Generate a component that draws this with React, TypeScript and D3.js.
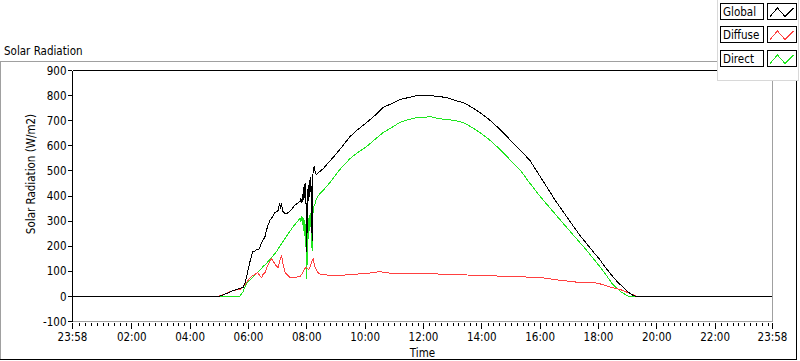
import React from "react";
import * as d3 from "d3";

type Pt = [string, number];

const xTickLabels = ["23:58", "02:00", "04:00", "06:00", "08:00", "10:00", "12:00", "14:00", "16:00", "18:00", "20:00", "22:00", "23:58"];
const yTickValues = [-100, 0, 100, 200, 300, 400, 500, 600, 700, 800, 900];
const legendNames = ["Global", "Diffuse", "Direct"];
const seriesColors = ["#000000", "#ff4040", "#1ee61e"];

const globalSeries: Pt[] = [
  ["00:00", 0], ["04:57", 0], ["05:05", 4], ["05:15", 12], ["05:28", 24], ["05:35", 27], ["05:42", 30], ["05:49", 37],
  ["05:53", 55], ["05:56", 77], ["05:59", 105], ["06:02", 131], ["06:06", 160], ["06:09", 177], ["06:13", 180], ["06:16", 186],
  ["06:20", 188], ["06:23", 192], ["06:27", 215], ["06:31", 228], ["06:34", 237], ["06:37", 262], ["06:40", 282], ["06:44", 304],
  ["06:47", 312], ["06:51", 324], ["06:54", 333], ["06:58", 338], ["07:01", 344], ["07:03", 362], ["07:04", 371], ["07:06", 356],
  ["07:08", 368], ["07:11", 337], ["07:15", 330], ["07:19", 331], ["07:25", 337], ["07:30", 352], ["07:35", 364], ["07:40", 372],
  ["07:46", 377], ["07:48", 392], ["07:50", 374], ["07:52", 402], ["07:53", 432], ["07:54", 386], ["07:55", 446], ["07:56", 396],
  ["07:57", 451], ["07:58", 408], ["07:59", 300], ["08:00", 177], ["08:01", 352], ["08:02", 424], ["08:03", 382], ["08:04", 442],
  ["08:05", 398], ["08:06", 462], ["08:07", 418], ["08:08", 472], ["08:09", 420], ["08:11", 224], ["08:12", 440], ["08:13", 500],
  ["08:15", 517], ["08:16", 504], ["08:18", 490], ["08:20", 484], ["08:24", 494], ["08:27", 497], ["08:34", 510], ["08:41", 524],
  ["08:54", 552], ["09:08", 584], ["09:29", 637], ["09:45", 664], ["10:03", 691], ["10:20", 722], ["10:37", 751], ["10:55", 770],
  ["11:11", 784], ["11:30", 793], ["11:46", 800], ["12:00", 802], ["12:13", 801], ["12:30", 797], ["12:48", 791], ["13:05", 782],
  ["13:22", 771], ["13:40", 753], ["13:56", 731], ["14:15", 705], ["14:31", 677], ["14:48", 646], ["15:05", 611], ["15:22", 578],
  ["15:39", 540], ["16:04", 467], ["16:30", 388], ["17:00", 302], ["17:22", 243], ["17:47", 184], ["18:01", 151], ["18:16", 113],
  ["18:31", 77], ["18:42", 52], ["18:52", 35], ["19:00", 20], ["19:05", 11], ["19:12", 4], ["19:19", 0], ["23:58", 0],
];

const diffuseSeries: Pt[] = [
  ["00:00", 0], ["04:57", 0], ["05:10", 8], ["05:28", 22], ["05:42", 28], ["05:49", 35], ["05:56", 57], ["06:02", 70],
  ["06:09", 84], ["06:16", 91], ["06:19", 97], ["06:23", 85], ["06:27", 77], ["06:30", 88], ["06:34", 97], ["06:37", 110],
  ["06:40", 124], ["06:44", 140], ["06:47", 151], ["06:51", 140], ["06:54", 131], ["06:58", 120], ["07:01", 117], ["07:04", 140],
  ["07:08", 164], ["07:11", 131], ["07:14", 105], ["07:17", 91], ["07:21", 82], ["07:25", 77], ["07:35", 75], ["07:46", 80],
  ["07:52", 97], ["07:56", 110], ["07:59", 117], ["08:03", 108], ["08:06", 111], ["08:10", 140], ["08:13", 151], ["08:16", 125],
  ["08:20", 104], ["08:25", 92], ["08:30", 88], ["08:54", 84], ["09:08", 84], ["09:30", 88], ["10:00", 92], ["10:20", 96],
  ["10:30", 100], ["10:40", 97], ["11:00", 93], ["12:00", 90], ["13:00", 87], ["14:00", 84], ["15:00", 80], ["16:00", 74],
  ["16:45", 65], ["17:22", 55], ["17:47", 54], ["18:01", 51], ["18:20", 40], ["18:45", 28], ["19:05", 13], ["19:20", 1],
  ["19:25", 0], ["23:58", 0],
];

const directSeries: Pt[] = [
  ["00:00", 0], ["05:42", 0], ["05:49", 20], ["05:56", 51], ["06:02", 65], ["06:09", 77], ["06:16", 92], ["06:23", 104],
  ["06:30", 118], ["06:37", 131], ["06:44", 148], ["06:51", 164], ["06:58", 180], ["07:04", 197], ["07:11", 217], ["07:18", 237],
  ["07:25", 257], ["07:32", 277], ["07:39", 295], ["07:46", 311], ["07:48", 300], ["07:50", 320], ["07:52", 290], ["07:53", 262],
  ["07:54", 310], ["07:55", 242], ["07:56", 302], ["07:57", 250], ["07:58", 222], ["07:59", 150], ["08:00", 71], ["08:01", 200],
  ["08:02", 282], ["08:03", 232], ["08:04", 312], ["08:05", 262], ["08:06", 322], ["08:07", 282], ["08:08", 332], ["08:09", 250],
  ["08:11", 184], ["08:12", 300], ["08:13", 340], ["08:15", 364], ["08:17", 372], ["08:20", 390], ["08:27", 411], ["08:41", 437],
  ["08:54", 470], ["09:08", 504], ["09:29", 551], ["09:45", 575], ["10:03", 597], ["10:20", 625], ["10:37", 651], ["10:55", 672],
  ["11:11", 691], ["11:30", 703], ["11:46", 711], ["12:00", 714], ["12:13", 715], ["12:30", 710], ["12:48", 704], ["13:05", 699],
  ["13:22", 691], ["13:40", 673], ["13:56", 651], ["14:15", 626], ["14:31", 597], ["14:48", 566], ["15:05", 531], ["15:20", 500],
  ["15:33", 464], ["16:00", 400], ["16:30", 330], ["17:00", 263], ["17:36", 184], ["18:01", 125], ["18:15", 88], ["18:28", 51],
  ["18:45", 20], ["18:55", 6], ["19:02", 0], ["23:58", 0],
];

const FONT = "'DejaVu Sans Condensed', 'DejaVu Sans', sans-serif";

const toMin = (s: string) => {
  const [h, m] = s.split(":").map(Number);
  return h * 60 + m;
};

export default function App() {
  const W = 800, H = 361;
  const x = d3.scaleLinear().domain([-2, 1438]).range([72.5, 772.5]);
  const y = d3.scaleLinear().domain([-100, 900]).range([321.5, 70.5]);

  const line = d3
    .line<Pt>()
    .x((d) => x(toMin(d[0])))
    .y((d) => Math.round(y(d[1]) - 0.5) + 0.5);

  const xMajor = xTickLabels.map((l, i) => (i === 0 ? toMin(l) - 1440 : toMin(l)));
  const xMinor = d3.range(0, 1440, 12).filter((m) => m % 120 !== 0 && m <= 1438);

  const seriesList = [globalSeries, diffuseSeries, directSeries];
  const drawOrder = [2, 1, 0];

  const gray = "#a0a0a0";

  return (
    <svg width={W} height={H} style={{ display: "block", position: "absolute", left: 0, top: 0, background: "#fff" }} fontFamily={FONT}>
      <rect x={0} y={0} width={W} height={H} fill="#fff" />
      {/* outer panel */}
      <line x1={0} x2={717} y1={61.5} y2={61.5} stroke={gray} />
      <line x1={0.5} x2={0.5} y1={61} y2={360} stroke={gray} />
      <line x1={0} x2={797} y1={359.5} y2={359.5} stroke="#000" />
      <line x1={796.5} x2={796.5} y1={70} y2={360} stroke="#000" />
      <text x={4} y={55} fontSize={11.5} fill="#000">Solar Radiation</text>

      {/* data */}
      <g shapeRendering="crispEdges">
        {drawOrder.map((i) => (
          <path key={i} d={line(seriesList[i]) || ""} fill="none" stroke={seriesColors[i]} strokeWidth={1} />
        ))}
      </g>

      {/* plot frame */}
      <g shapeRendering="crispEdges">
        <line x1={72.5} x2={772.5} y1={70.5} y2={70.5} stroke="#000" />
        <line x1={72.5} x2={72.5} y1={70.5} y2={321.5} stroke="#000" />
        <line x1={772.5} x2={772.5} y1={70.5} y2={321.5} stroke={gray} />
        <line x1={72.5} x2={772.5} y1={321.5} y2={321.5} stroke={gray} />
      </g>

      {/* y axis */}
      <g shapeRendering="crispEdges">
        {yTickValues.map((v) => (
          <line key={v} x1={67.5} x2={72} y1={Math.round(y(v) - 0.5) + 0.5} y2={Math.round(y(v) - 0.5) + 0.5} stroke="#000" />
        ))}
      </g>
      {yTickValues.map((v) => (
        <text key={v} x={66.5} y={y(v)} dy="0.36em" textAnchor="end" fontSize={11.5} fill="#000">
          {String(v)}
        </text>
      ))}
      <text
        transform={`translate(31,174) rotate(-90)`}
        textAnchor="middle"
        dy="0.36em"
        fontSize={11.5}
        fill="#000"
      >
        Solar Radiation (W/m2)
      </text>

      {/* x axis */}
      <g shapeRendering="crispEdges">
        {xMinor.map((m) => (
          <line key={"m" + m} x1={Math.round(x(m)) + 0.5} x2={Math.round(x(m)) + 0.5} y1={323} y2={326} stroke="#000" />
        ))}
        {xMajor.map((m, i) => (
          <line key={"M" + i} x1={Math.round(x(m) - 0.5) + 0.5} x2={Math.round(x(m) - 0.5) + 0.5} y1={323} y2={329} stroke="#000" />
        ))}
      </g>
      {xMajor.map((m, i) => (
        <text key={"t" + i} x={x(m)} y={340.5} textAnchor="middle" fontSize={11.5} fill="#000">
          {xTickLabels[i]}
        </text>
      ))}
      <text x={(x(-2) + x(1438)) / 2} y={357} textAnchor="middle" fontSize={11.5} fill="#000">Time</text>

      {/* legend */}
      <rect x={717.5} y={-0.5} width={81} height={80.5} fill="#fff" stroke="#d8d8d8" shapeRendering="crispEdges" />
      {legendNames.map((name, i) => {
        const top = 3.5 + Math.round(i * 23.3);
        const swX = 770;
        return (
          <g key={name}>
            <rect x={720.5} y={top} width={43} height={16} fill="#fff" stroke="#000" shapeRendering="crispEdges" />
            <text x={723} y={top + 12.5} fontSize={11.5} fill="#000">{name}</text>
            <rect x={767.5} y={top} width={29} height={16} fill="#fff" stroke="#000" shapeRendering="crispEdges" />
            <polyline
              points={`${swX},${top + 13} ${swX + 7.5},${top + 4.5} ${swX + 15},${top + 13} ${swX + 23.5},${top + 4.5}`}
              fill="none"
              stroke={seriesColors[i]}
              strokeWidth={1}
              shapeRendering="crispEdges"
            />
          </g>
        );
      })}
    </svg>
  );
}
